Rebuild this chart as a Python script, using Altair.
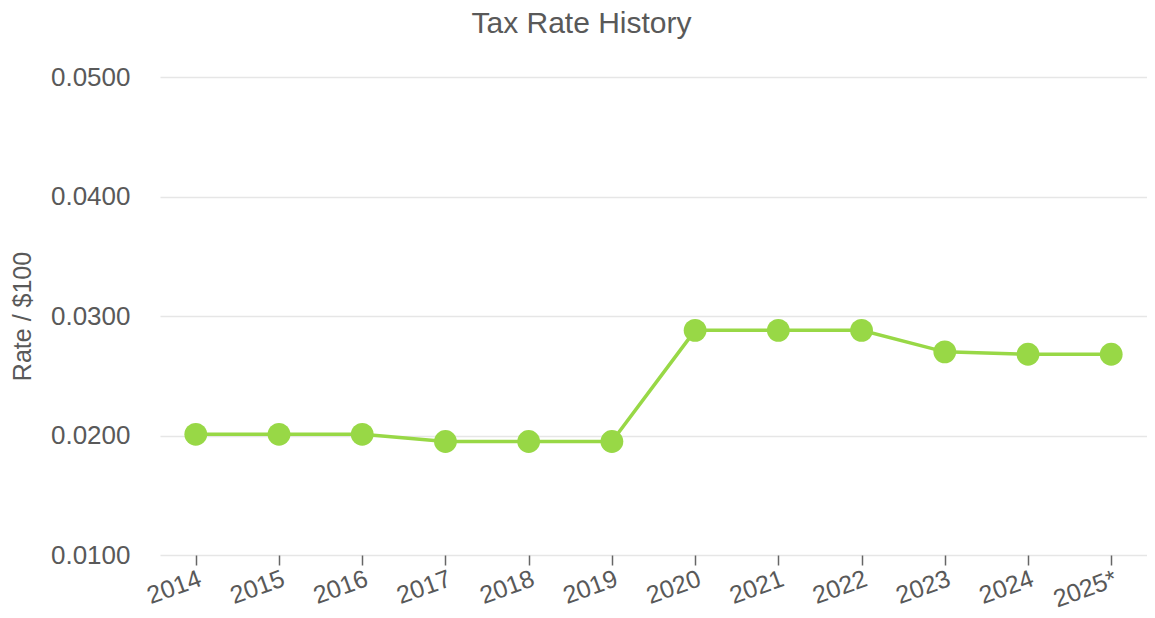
import altair as alt
import pandas as pd

years = ["2014", "2015", "2016", "2017", "2018", "2019", "2020", "2021", "2022", "2023", "2024", "2025*"]
rates = [0.0201, 0.0201, 0.0201, 0.0195, 0.0195, 0.0195, 0.0288, 0.0288, 0.0288, 0.0270, 0.0268, 0.0268]
y_ticks = [0.01, 0.02, 0.03, 0.04, 0.05]

df = pd.DataFrame({"year": years, "rate": rates})

GREEN = "#98d846"
TXT = "#595959"
FONT = "Liberation Sans"

x = alt.X("year:N", sort=years, title=None,
          scale=alt.Scale(type="point", padding=0.43),
          axis=alt.Axis(labelAngle=-20, labelAlign="right", labelBaseline="top",
                        labelFontSize=25, labelColor=TXT, labelFont=FONT,
                        labelPadding=1, ticks=True, tickSize=10, tickColor="#666666",
                        tickWidth=1.5, domain=False, grid=False))
y = alt.Y("rate:Q", title="Rate / $100",
          scale=alt.Scale(domain=[0.01, 0.05], nice=False, zero=False),
          axis=alt.Axis(values=y_ticks, format=".4f", labelFontSize=26, labelColor=TXT,
                        labelFont=FONT, labelPadding=30, ticks=False, domain=False,
                        grid=True, gridColor="#e6e6e6", gridWidth=1.5,
                        titleFontSize=25, titleColor=TXT, titleFont=FONT,
                        titleFontWeight="normal", titlePadding=15))

base = alt.Chart(df).encode(x=x, y=y)
line = base.mark_line(color=GREEN, strokeWidth=3.5)
pts = base.mark_circle(color=GREEN, size=520, opacity=1)

chart = (line + pts).properties(
    width=987, height=478,
    background="white",
    title=alt.TitleParams("Tax Rate History", fontSize=30, color=TXT, font=FONT,
                          fontWeight="normal", anchor="middle", dx=-72, offset=25),
    autosize=alt.AutoSizeParams(type="none"),
    padding={"left": 152, "top": 69, "right": 0, "bottom": 55},
).configure_view(stroke=None, strokeWidth=0).configure_axis(domain=False)

chart.save("out.html", embed_options={"renderer": "svg", "actions": False})
